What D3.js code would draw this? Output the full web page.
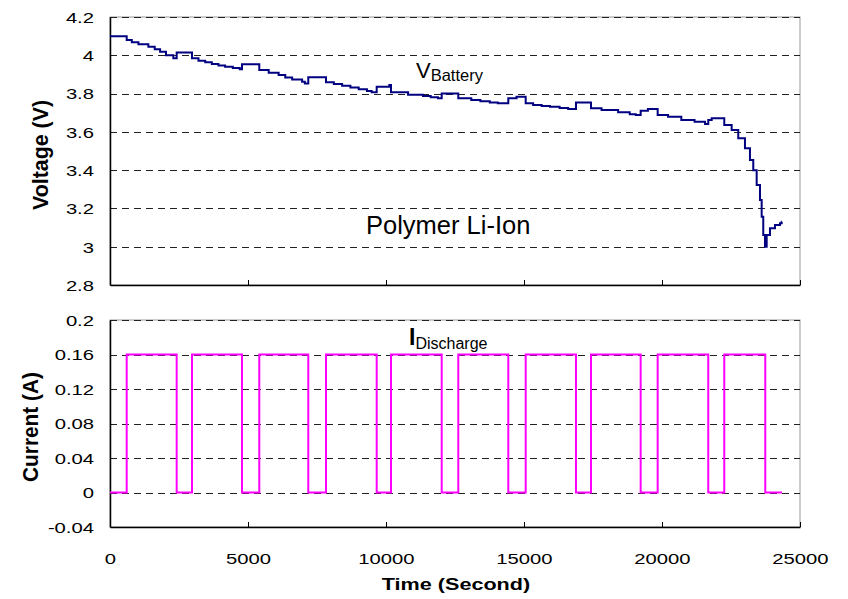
<!DOCTYPE html>
<html>
<head>
<meta charset="utf-8">
<script src="https://cdn.jsdelivr.net/npm/d3@7"></script>
<style>
  body { margin: 0; background: #fff; }
  text { font-family: "Liberation Sans", Arial, sans-serif; }
</style>
</head>
<body>
<div id="chart"></div>
<script>
// voltage readings, step levels (s, V)
var voltTime = [0, 605, 790, 1030, 1390, 1620, 1815, 2030, 2295, 2416, 2971, 3205, 3450, 3690, 3930, 4170, 4450, 4700,
  4782, 5409, 5750, 6110, 6350, 6600, 6960, 7060, 7184, 7826, 8110, 8410, 8710, 9010, 9310, 9480, 9663, 10120,
  10181, 10800, 11340, 11620, 11880, 12018, 12619, 13090, 13420, 13760, 14050, 14431, 14730, 15061, 15330, 15640,
  15940, 16290, 16600, 16883, 17427, 17810, 18410, 18830, 19050, 19227, 19490, 19843, 20220, 20700, 21180, 21560,
  21676, 21800, 22256, 22524, 22763, 23006, 23187, 23307, 23430, 23550, 23611, 23669, 23731, 23793, 23912, 24093,
  24274, 24336, 24340];
var voltValue = [4.100, 4.080, 4.068, 4.057, 4.045, 4.032, 4.019, 4.000, 3.984, 4.014, 3.984, 3.972, 3.963, 3.955, 3.947, 3.940, 3.933, 3.927,
  3.953, 3.923, 3.909, 3.897, 3.884, 3.874, 3.862, 3.853, 3.885, 3.859, 3.850, 3.841, 3.832, 3.822, 3.814, 3.807, 3.836, 3.845,
  3.807, 3.794, 3.787, 3.781, 3.775, 3.800, 3.775, 3.766, 3.760, 3.754, 3.749, 3.775, 3.784, 3.749, 3.740, 3.735,
  3.731, 3.725, 3.719, 3.754, 3.723, 3.714, 3.702, 3.692, 3.688, 3.710, 3.719, 3.688, 3.679, 3.662, 3.653, 3.641,
  3.662, 3.671, 3.636, 3.610, 3.566, 3.514, 3.453, 3.400, 3.322, 3.244, 3.157, 3.061, 3.000, 3.061, 3.096, 3.113,
  3.122, 3.130, 3.130];

// discharge current, step levels (s, A)
var curTime = [0, 605, 2416, 2971, 4782, 5409, 7184, 7826, 9663, 10181, 12018, 12619, 14431, 15061, 16883, 17427,
  19227, 19843, 21676, 22256, 23742, 24350];
var curValue = [0, 0.16, 0, 0.16, 0, 0.16, 0, 0.16, 0, 0.16, 0, 0.16, 0, 0.16, 0, 0.16, 0, 0.16, 0, 0.16, 0, 0];

var timeTicks = [0, 5000, 10000, 15000, 20000, 25000];
var voltTicks = [2.8, 3, 3.2, 3.4, 3.6, 3.8, 4, 4.2];
var voltLabels = ["2.8", "3", "3.2", "3.4", "3.6", "3.8", "4", "4.2"];
var curTicks = [-0.04, 0, 0.04, 0.08, 0.12, 0.16, 0.2];
var curLabels = ["-0.04", "0", "0.04", "0.08", "0.12", "0.16", "0.2"];

var W = 848, H = 599;
var SX = 1.35; // the picture's text is stretched sideways

var svg = d3.select("#chart").append("svg")
    .attr("width", W)
    .attr("height", H);

var x = d3.scaleLinear().domain([0, 25000]).range([110, 800]);
var yV = d3.scaleLinear().domain([2.8, 4.2]).range([285, 17]);
var yI = d3.scaleLinear().domain([-0.04, 0.2]).range([527, 320]);

Panel(yV, voltTicks, voltLabels, voltTicks.slice(1));
Panel(yI, curTicks, curLabels, curTicks.slice(1));

// x labels only under the lower panel
var xAx = svg.append("g").attr("transform", "translate(0," + yI.range()[0] + ")")
    .call(d3.axisBottom(x).tickValues(timeTicks).tickSize(0).tickFormat(function (d) { return d; }));
xAx.select(".domain").remove();
xAx.selectAll("text")
    .attr("y", 37).attr("dy", 0)
    .attr("transform", "scale(" + SX + ",1)")
    .attr("font-size", 15).attr("fill", "#000");

// lines
var lineV = d3.line().curve(d3.curveStepAfter)
    .x(function (d, i) { return x(voltTime[i]); })
    .y(function (d) { return yV(d); });
svg.append("path").attr("d", lineV(voltValue))
    .attr("fill", "none").attr("stroke", "#000080").attr("stroke-width", 2);

var lineI = d3.line().curve(d3.curveStepAfter)
    .x(function (d, i) { return x(curTime[i]); })
    .y(function (d) { return yI(d); });
svg.append("path").attr("d", lineI(curValue))
    .attr("fill", "none").attr("stroke", "#ff00ff").attr("stroke-width", 2);

// axis titles
Title("Voltage (V)", 48, 155);
Title("Current (A)", 38, 427);
svg.append("text")
    .attr("transform", "translate(456,590) scale(" + SX + ",1)")
    .attr("text-anchor", "middle").attr("font-size", 16).attr("font-weight", "bold")
    .text("Time (Second)");

// annotations
var tv = svg.append("text").attr("x", 416).attr("y", 78).attr("font-size", 22);
tv.append("tspan").text("V");
tv.append("tspan").attr("font-size", 16.5).attr("dy", 3).text("Battery");

svg.append("text").attr("x", 366).attr("y", 234).attr("font-size", 25.5).text("Polymer Li-Ion");

var ti = svg.append("text").attr("x", 409).attr("y", 345).attr("font-size", 23).attr("font-weight", "bold");
ti.append("tspan").text("I");
ti.append("tspan").attr("font-size", 16).attr("font-weight", "normal").attr("dy", 4).text("Discharge");

function Panel(y, ticks, labels, grid)
{
	var x0 = x.range()[0], x1 = x.range()[1];
	var y0 = y.range()[0], y1 = y.range()[1];

	// gray frame top/right
	svg.append("rect").attr("x", x0).attr("y", y1).attr("width", x1 - x0).attr("height", y0 - y1)
	    .attr("fill", "none").attr("stroke", "#999").attr("stroke-width", 1);

	svg.append("g").selectAll("line").data(grid).join("line")
	    .attr("x1", x0).attr("x2", x1)
	    .attr("y1", function (d) { return Math.round(y(d)) + 0.5; })
	    .attr("y2", function (d) { return Math.round(y(d)) + 0.5; })
	    .attr("stroke", "#222").attr("stroke-width", 1).attr("stroke-dasharray", "7,5");

	var ax = svg.append("g").attr("transform", "translate(" + x0 + ",0)")
	    .call(d3.axisLeft(y).tickValues(ticks).tickSize(0).tickFormat(function (d, i) { return labels[i]; }));
	ax.select(".domain").attr("stroke", "#000").attr("stroke-width", 1.5);
	ax.selectAll("text")
	    .attr("x", -16 / SX).attr("dy", "0.36em")
	    .attr("transform", "scale(" + SX + ",1)")
	    .attr("font-size", 15).attr("fill", "#000");

	var bx = svg.append("g").attr("transform", "translate(0," + y0 + ")")
	    .call(d3.axisBottom(x).tickValues(timeTicks).tickSizeInner(-5).tickSizeOuter(0).tickFormat(""));
	bx.select(".domain").attr("stroke", "#000").attr("stroke-width", 1.5);
	bx.selectAll("line").attr("stroke", "#000");
}

function Title(s, tx, ty)
{
	svg.append("text")
	    .attr("transform", "translate(" + tx + "," + ty + ") scale(" + SX + ",1) rotate(-90)")
	    .attr("text-anchor", "middle").attr("font-size", 16).attr("font-weight", "bold")
	    .attr("textLength", 110).attr("lengthAdjust", "spacingAndGlyphs")
	    .text(s);
}
</script>
</body>
</html>
